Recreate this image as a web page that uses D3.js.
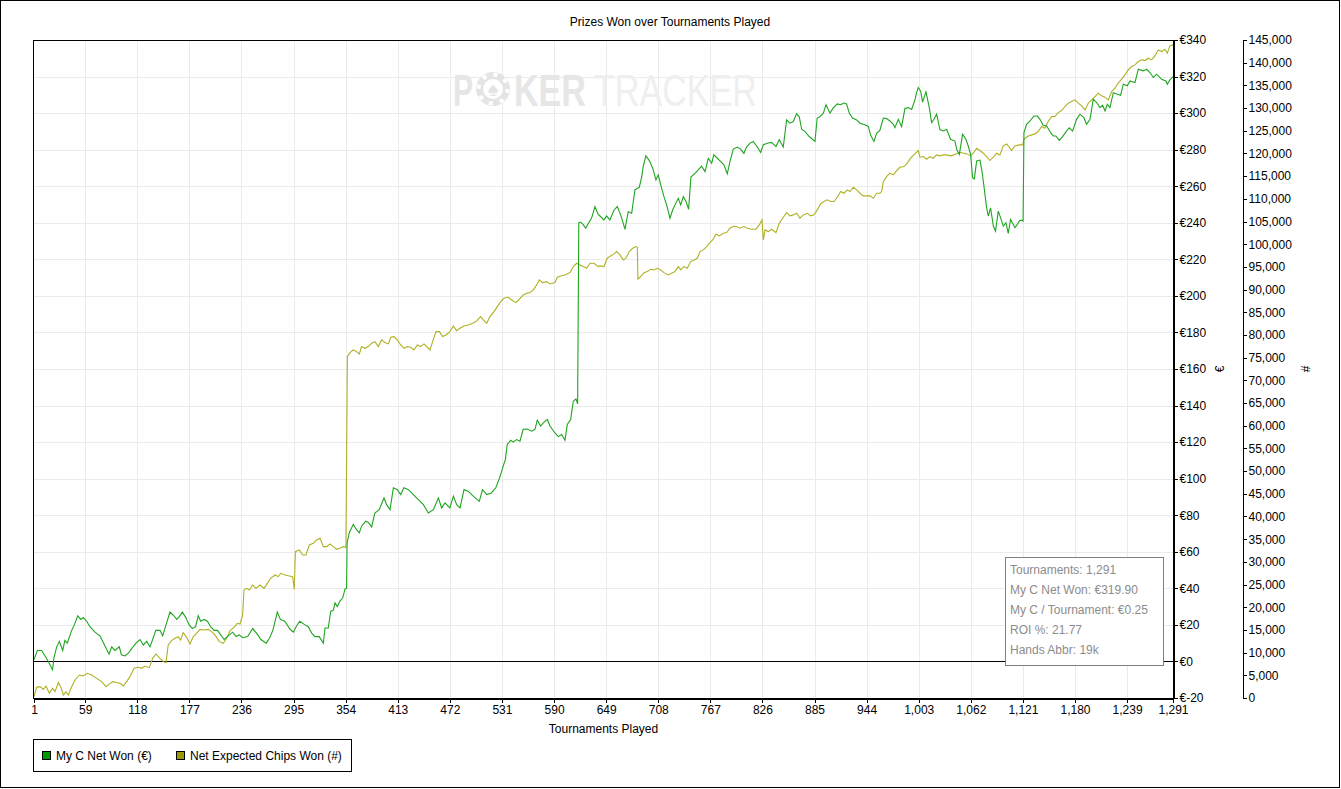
<!DOCTYPE html>
<html>
<head>
<meta charset="utf-8">
<script src="https://cdn.jsdelivr.net/npm/d3@7"></script>
<style>
  body { margin: 0; background: #fff; }
  svg { display: block; font-family: "Liberation Sans", Arial, sans-serif; font-size: 12px; }
  .axis text { font-size: 12px; fill: #000; }
  .axis path, .axis line { stroke: #000; shape-rendering: crispEdges; }
</style>
</head>
<body>
<div id="chart"></div>
<script>
// Tournament numbers and values
var netWonT = [1,4.8,9.7,13.5,17.2,22,23.6,26.7,29.7,33.5,36,38.7,43.7,46.7,50.5,53.9,56.9,60.6,64.4,70,75.7,81.4,86,89,92.7,97.6,100,104,107.8,111.6,116.5,121,124.8,128.6,132.4,135.4,139,143.7,146.7,150.5,155,159.5,162.6,165.6,169,173,176.7,180.4,184,187,189.8,193.7,197.4,201,205,208.8,212.5,216.3,220,226,229.8,233.5,237.3,243,248.7,254.5,258,264,267.7,271.5,276.6,280,285,291,294.7,298.5,302,308,311.7,315.5,319,324,328.7,330.6,334.3,337,340,342,344.5,347.5,350.6,353.2,355,355.6,358,362.6,365.7,369.4,372,376.6,379.6,383.4,387,392,397.4,400.4,404.2,408,412.5,416.3,420,425,430.6,436.3,442,447.6,453.3,459,462.7,466.5,472,476,479.7,483.5,488,493,498.5,505.3,509,513.6,519,524,528.7,532.5,534.8,537,540.8,543.8,547.6,551.4,555,559.7,564.6,568.4,571,574.8,577.8,582.4,585.4,591,594.8,598.6,602.4,605,608.8,611.8,614.8,616.7,618,620,623,625.8,628.8,632.6,636.3,640,642,646.5,649.5,653.3,657.9,661.6,665.4,668.4,670.3,674,677.9,681.6,686.5,689.2,691,694,697.9,701.6,705.4,708,711.8,714.5,717.5,721.3,724.3,727,730.7,733.4,736.4,739.4,742.4,745,749.6,753.4,757,761,764.7,768.5,771,775,778.7,782.4,786.2,789.2,793,797.5,801.3,805,808,812,815.6,819.4,824,827,832.6,836.4,841.3,845,849.6,853.4,857.2,861,864.7,867.7,870.4,874,879,885.5,888,891,895,898,902.5,906,910.8,914.6,918.3,921.3,924.4,928,932.7,936.5,942,946,948.5,952.3,955.3,959,962.9,966.6,970.4,974.2,976,979.9,983.6,987.4,991.2,995,998.7,1000.6,1002.5,1005.2,1007.4,1011.2,1015,1017.6,1020.3,1023.3,1027,1030.8,1034.6,1039.1,1044,1046,1049,1052.7,1056.5,1059.1,1061.8,1064,1066,1068.6,1072.4,1074.6,1076.9,1079.9,1081.8,1084.4,1087.5,1090,1093.1,1095.8,1098.8,1101.8,1104.4,1107,1112,1117.6,1120.7,1121.2,1122.2,1125.2,1129,1133.5,1137.3,1140.3,1144,1147.9,1152.4,1155.4,1158.4,1162.2,1166,1169.8,1173.5,1177.3,1181.8,1185.6,1190.1,1193.1,1197,1200.7,1204.5,1208.2,1211.3,1214,1216.6,1219.6,1223.4,1227.9,1231.7,1234.7,1239.2,1242.2,1247.9,1251.7,1257.3,1261.1,1264.9,1268.7,1272.4,1278.1,1283,1284.5,1287.5,1291];
var netWonV = [1,6,6,3,0,-4.5,2,8,11,6,11.5,10,17,20,25,23,24,22,19,16,14,8.5,4,8,6,8,3.6,3,4.5,7,10,12,9,11,8,12,17,17,14,20,27,25,23,24.5,27,24,20,18,19,25,22,23,22,19,17,17,14.5,12,13.6,16,13.6,14.5,13,13.6,18,14.5,12,10,12.7,17,27,23,22,17.6,16,19.5,22,20,19,15.5,13.6,13.6,10,18.3,18.3,27.4,28,32,30,33,34.7,39.6,40,64.8,70.3,75,72.5,70.3,74,76.7,76,73.6,81.2,83,89.4,85.8,83,95,94,91.3,95,94,91.3,88.5,85.8,81.2,83,89.4,84,86.7,84,90.4,85.8,84,94,93,90.4,87.6,94,91.3,92.2,95,101,107,110.4,118.7,121,120,121.4,120.5,127,127.2,126,127,132,128.8,130.5,132.4,128.8,125,123,124.2,121,129.6,132.4,142.4,143.6,141,240,240.4,239,237,239.6,242.7,248.8,244.6,243.7,241.6,243.7,241.6,247,248.9,244.3,239.7,236.4,246,245.2,258,259.4,265,270.8,276.6,274,270,263.5,266.2,259,254.3,249.8,242.5,247,249.8,253.4,249.8,254.3,251.6,247.4,265,267,269,271,268,275.3,272.6,277.2,275.3,273.5,271.7,266.8,273.5,280.3,281.4,280.3,278,281.4,283.6,284.5,282,278.5,282.7,283.6,284,281.7,285.4,281.4,296.3,294.5,295.4,299.6,298,291.2,290,287.2,284.5,297.3,298,300,304.6,300,302.7,305,304.6,305.5,305,300,297.3,296.3,294.5,293.6,292.7,288,284.5,289,290.5,297.3,297,295.7,293.9,292,296.6,292.6,302.5,303,302,307.2,311.2,314,312,306,311.6,303,294.8,296.6,299.4,291,290.2,291,285.7,284.7,280.2,277.4,288.4,285.7,282,277.4,264.7,264,273.8,274.3,268.3,260,248.2,243.7,248.2,238.2,235.4,246.4,242.7,238.2,240,234.2,241.8,237.3,241.3,241.3,241,289.3,293.9,295.7,298.4,298.4,296.6,293.3,293,289.3,287.5,287.5,285.1,287.1,289.7,292,290.2,296.6,299.4,297.5,293.9,296.6,307.6,305.8,303,304.3,301.2,304.8,303,311.2,310.3,309.8,315.8,314.9,317.6,316.7,324,323.1,324,322.2,319.5,321.3,318.5,317.6,315.8,318.2,320,319.9];

var chipsT = [1,4,7.8,11.6,14.6,18.4,22,24.8,28.6,31.2,34.2,37.2,39.9,43.7,47.4,52.3,56.9,61.4,66.3,72,77.6,82.5,87,90.8,95.4,98.4,102.2,106,109.7,114.3,119.2,123,126.7,131.6,135.4,139.2,143.7,147.5,150.5,153,156.9,160.7,164.5,167,170,173.9,177.7,181.4,185.2,189,193.5,198.4,202.2,206,210.9,215.4,219.2,223,227.5,231.3,234.3,237.3,238.8,241.8,244.9,248.6,252.4,257,261.5,265.3,269,273.9,277.7,280.4,285.3,290.2,293.9,295.8,297,301.5,305.3,309,312.8,317.3,321,325,328.7,332.5,336.2,340,343.8,347.5,351.3,354.3,355.9,358.9,362.6,366.4,369.4,372,375.9,379.6,383.4,387.2,391,394.7,398.5,402.3,405,408.7,412.5,416.3,420,423.8,427.6,431.4,435.1,438.9,442.7,446.5,449.5,452.5,456.3,460,463.8,467.6,472.1,475.9,479.7,483.4,488,492.9,497.8,501.6,506.9,509.9,513.7,517.4,522,525.7,529.5,533.3,538.2,542,546.9,550.6,555.2,558.9,562.7,566.5,570.3,573.3,577.1,581.6,585.4,591,593.7,597.5,602.4,608.1,611.8,615.6,619.4,623.1,626.9,630.7,635.2,640.1,642,646.5,650.3,654,657.9,660.9,664.7,668.4,671.4,675.2,679,682.8,684.3,685,688,691.8,695.6,699.4,703.2,707,710.7,714.5,719.4,723.2,727,730.7,733.4,737.1,740.9,744.7,748.5,752.2,755.3,759,762.8,765.8,769.6,773.4,777.1,781.7,785.5,789.2,793,796.8,800.5,805.1,808.9,813.8,818.7,822.4,825.5,827,828.9,832.6,836.4,841.3,845.1,848.9,853.4,857.2,860.9,864.7,868.5,872.3,876.8,880.6,884.4,888.1,891.9,895.7,899.5,903.2,907,910.8,914.6,918.3,922.1,925.1,928.9,932.7,936.5,940.2,944,947.8,951.6,955.3,959,961,962.9,966.6,970.4,974.2,978,981.7,986.3,990,993.8,998.7,1002.5,1004.4,1008.2,1012,1015.7,1019.5,1023.3,1027,1030.8,1034.6,1039.1,1042.9,1046.7,1050.5,1054.2,1058,1061.8,1064.8,1068.6,1072.4,1076.1,1079.9,1083.7,1087.5,1091.2,1095,1098.8,1102.6,1105.6,1108.2,1112,1116.9,1120.7,1122.2,1126,1130.9,1134.6,1138.4,1142.2,1146,1149.7,1153.5,1157.3,1161.1,1164.8,1168.6,1172.4,1176.2,1179.9,1183.7,1187.5,1191.3,1195,1198.8,1202.6,1206.4,1210.1,1213.9,1217.7,1221.5,1225.2,1229,1232.8,1236.6,1240.4,1244.1,1247.9,1251.7,1255.5,1259.2,1263,1266.8,1270.5,1274.3,1278.1,1281.9,1284.5,1287.5,1291];
var chipsV = [294,2350,2500,1900,2650,1030,2130,1400,3380,2500,660,1400,660,2500,3970,5070,4850,5440,5070,4330,3600,2500,3230,3600,3380,3230,2650,3600,4700,6540,6760,6540,7050,6690,8740,9700,8740,8010,7790,11680,12640,13150,13520,12780,14400,13370,11900,13520,14250,15130,15000,15130,14620,13890,12420,12050,13150,14840,15580,16460,16310,18290,23800,24170,23800,24900,24170,24900,24170,25270,26380,27110,26740,27480,27110,26890,26740,23950,32250,32620,31520,31520,33720,34090,34820,35190,33350,33350,33940,33350,32770,32990,33350,33200,75230,76110,76700,76330,75820,77440,77070,77440,78170,78540,77440,78910,78320,78030,79500,79640,78910,77800,77070,77440,77290,76700,77800,77440,78030,77290,76700,78540,80740,80740,79640,80010,80740,81990,80960,81480,81990,82210,82580,82950,84050,83310,82580,84050,85150,86250,87350,88090,88310,87720,87130,87870,88820,89190,89340,89930,91030,92130,91540,91760,91250,91540,92720,93010,93230,93740,95070,95800,95440,95070,94700,95800,95800,95070,95220,95070,96910,97420,97860,98380,97640,96540,96910,98380,99110,99480,99330,92280,92870,93740,93960,94480,94330,94700,94330,93740,93230,93600,93960,95070,94330,95070,94700,96170,96540,96910,98380,98750,99480,100210,100950,102270,101830,102420,102560,103520,103890,103890,103520,103890,103520,103300,103300,104250,105360,100950,103150,102780,103300,102560,104620,105720,106970,106240,106460,106820,105720,106460,106820,106240,106460,107560,108880,109400,109770,109400,109400,110350,111600,111230,111970,111600,112560,111970,111230,110650,110650,110650,110130,111230,111230,111600,113800,114900,115640,115270,116230,116960,117110,117850,118950,119900,120640,119170,119320,118730,119320,118950,119680,119460,119680,119680,119460,119680,120050,120200,120050,119900,119460,120050,121150,120640,120050,119320,118440,119170,120050,119680,121660,122110,121370,120640,121660,121890,121890,123140,123720,124090,124310,124820,125930,125560,127030,128130,128130,129010,129460,130340,131070,131440,131810,131070,130480,129600,131070,131810,132540,133280,132690,132400,131810,133640,134380,135480,136360,137310,138420,139150,139520,140250,140620,140470,140990,140620,141500,142820,142460,142970,142090,143710,143930];

var xTicks = [1,59,118,177,236,295,354,413,472,531,590,649,708,767,826,885,944,1003,1062,1121,1180,1239,1291];
var euroTicks = d3.range(-20, 341, 20);
var chipTicks = d3.range(0, 145001, 5000);
var statLines = ["Tournaments: 1,291", "My C Net Won: €319.90", "My C / Tournament: €0.25", "ROI %: 21.77", "Hands Abbr: 19k"];
var seriesNames = ["My C Net Won (€)", "Net Expected Chips Won (#)"];
var seriesColors = ["#1fa51f", "#b0b024"];
var legendColors = ["#009900", "#999900"];

var W = 1341, H = 789;
var L = 34, R = 1173, T = 40, B = 698;

var svg = d3.select("#chart").append("svg").attr("width", W).attr("height", H);

// outer frame
svg.append("rect").attr("x", 0.5).attr("y", 0.5).attr("width", W - 2).attr("height", H - 2)
  .attr("fill", "#fff").attr("stroke", "#000");

var x = d3.scaleLinear().domain([1, 1291]).range([L, R]);
var yE = d3.scaleLinear().domain([-20, 340]).range([B, T]);
var yC = d3.scaleLinear().domain([0, 145000]).range([B, T]);

// grid
var grid = svg.append("g").attr("stroke", "#ebebeb").attr("shape-rendering", "crispEdges");
grid.selectAll(".gx").data(xTicks.slice(1, -1)).enter().append("line")
  .attr("x1", function(d){ return Math.round(x(d)) + 0.5; })
  .attr("x2", function(d){ return Math.round(x(d)) + 0.5; })
  .attr("y1", T).attr("y2", B);
grid.selectAll(".gy").data(euroTicks.slice(1, -1)).enter().append("line")
  .attr("y1", function(d){ return Math.round(yE(d)) + 0.5; })
  .attr("y2", function(d){ return Math.round(yE(d)) + 0.5; })
  .attr("x1", L).attr("x2", R);

// watermark: squeezed words, scaled so their real boxes fit
var wm = svg.append("g").attr("fill", "#e6e6e6");
function squeezed(txt, x0, w, bold, fill){
  var g = wm.append("g");
  var t = g.append("text").attr("x", 0).attr("y", 0).attr("font-size", 45)
    .attr("font-weight", bold ? "bold" : "normal").attr("fill", fill).text(txt);
  var len = t.node().getComputedTextLength();
  g.attr("transform", "translate(" + x0 + ",106) scale(" + (w / len) + ",1)");
}
squeezed("P", 453, 20, true, "#e6e6e6");
wm.append("circle").attr("cx", 493).attr("cy", 89).attr("r", 17).attr("fill", "#e4e4e4");
wm.append("circle").attr("cx", 493).attr("cy", 89).attr("r", 14.5).attr("fill", "none")
  .attr("stroke", "#fff").attr("stroke-width", 4).attr("stroke-dasharray", "4 7.4");
wm.append("circle").attr("cx", 493).attr("cy", 89).attr("r", 10).attr("fill", "#fff");
wm.append("text").attr("x", 493).attr("y", 96).attr("text-anchor", "middle").attr("font-size", 20)
  .attr("fill", "#e4e4e4").text("♠");
squeezed("KER", 514, 72, true, "#e6e6e6");
squeezed("TRACKER", 594, 163, false, "#efefef");

// zero line
svg.append("line").attr("x1", L).attr("x2", R)
  .attr("y1", Math.round(yE(0)) + 0.5).attr("y2", Math.round(yE(0)) + 0.5)
  .attr("stroke", "#000").attr("shape-rendering", "crispEdges");

// series
var lineE = d3.line().x(function(d){ return x(d[0]); }).y(function(d){ return yE(d[1]); });
var lineC = d3.line().x(function(d){ return x(d[0]); }).y(function(d){ return yC(d[1]); });
svg.append("path").datum(d3.zip(chipsT, chipsV)).attr("d", lineC)
  .attr("fill", "none").attr("stroke", seriesColors[1]).attr("stroke-width", 1.1);
svg.append("path").datum(d3.zip(netWonT, netWonV)).attr("d", lineE)
  .attr("fill", "none").attr("stroke", seriesColors[0]).attr("stroke-width", 1.1);

// plot frame
svg.append("rect").attr("x", L - 0.5).attr("y", T + 0.5).attr("width", R - L + 1).attr("height", B - T)
  .attr("fill", "none").attr("stroke", "#000").attr("shape-rendering", "crispEdges");

// axes
svg.append("g").attr("class", "axis").attr("transform", "translate(0," + (B + 0.5) + ")")
  .call(d3.axisBottom(x).tickValues(xTicks).tickFormat(d3.format(",")).tickSize(4).tickSizeOuter(0).tickPadding(3));
svg.append("g").attr("class", "axis").attr("transform", "translate(" + (R + 0.5) + ",0)")
  .call(d3.axisRight(yE).tickValues(euroTicks).tickFormat(function(d){ return "€" + d; }).tickSize(4).tickSizeOuter(0).tickPadding(2));
svg.append("g").attr("class", "axis").attr("transform", "translate(" + 1242.5 + ",0)")
  .call(d3.axisRight(yC).tickValues(chipTicks).tickFormat(d3.format(",")).tickSize(4).tickSizeOuter(4).tickPadding(2));

// titles
svg.append("text").attr("x", 670).attr("y", 26).attr("text-anchor", "middle").text("Prizes Won over Tournaments Played");
svg.append("text").attr("x", (L + R) / 2).attr("y", 733).attr("text-anchor", "middle").text("Tournaments Played");
svg.append("text").attr("transform", "translate(1224,369) rotate(-90)").attr("text-anchor", "middle").text("€");
svg.append("text").attr("transform", "translate(1310,369) rotate(-90)").attr("text-anchor", "middle").text("#");

// stats box
var sb = svg.append("g");
sb.append("rect").attr("x", 1005.5).attr("y", 557.5).attr("width", 158).attr("height", 108)
  .attr("fill", "#fff").attr("stroke", "#808080");
sb.selectAll("text").data(statLines).enter().append("text")
  .attr("x", 1010).attr("y", function(d, i){ return 574 + i * 20; })
  .attr("fill", "#8c8c8c").text(function(d){ return d; });

// legend
var lg = svg.append("g");
lg.append("rect").attr("x", 33.5).attr("y", 739.5).attr("width", 318).attr("height", 32)
  .attr("fill", "#fff").attr("stroke", "#000");
var lx = [42, 176];
seriesNames.forEach(function(n, i){
  lg.append("rect").attr("x", lx[i] + 0.5).attr("y", 751.5).attr("width", 8).attr("height", 8)
    .attr("fill", legendColors[i]).attr("stroke", "#000");
  lg.append("text").attr("x", lx[i] + 14).attr("y", 760).text(n);
});
</script>
</body>
</html>
